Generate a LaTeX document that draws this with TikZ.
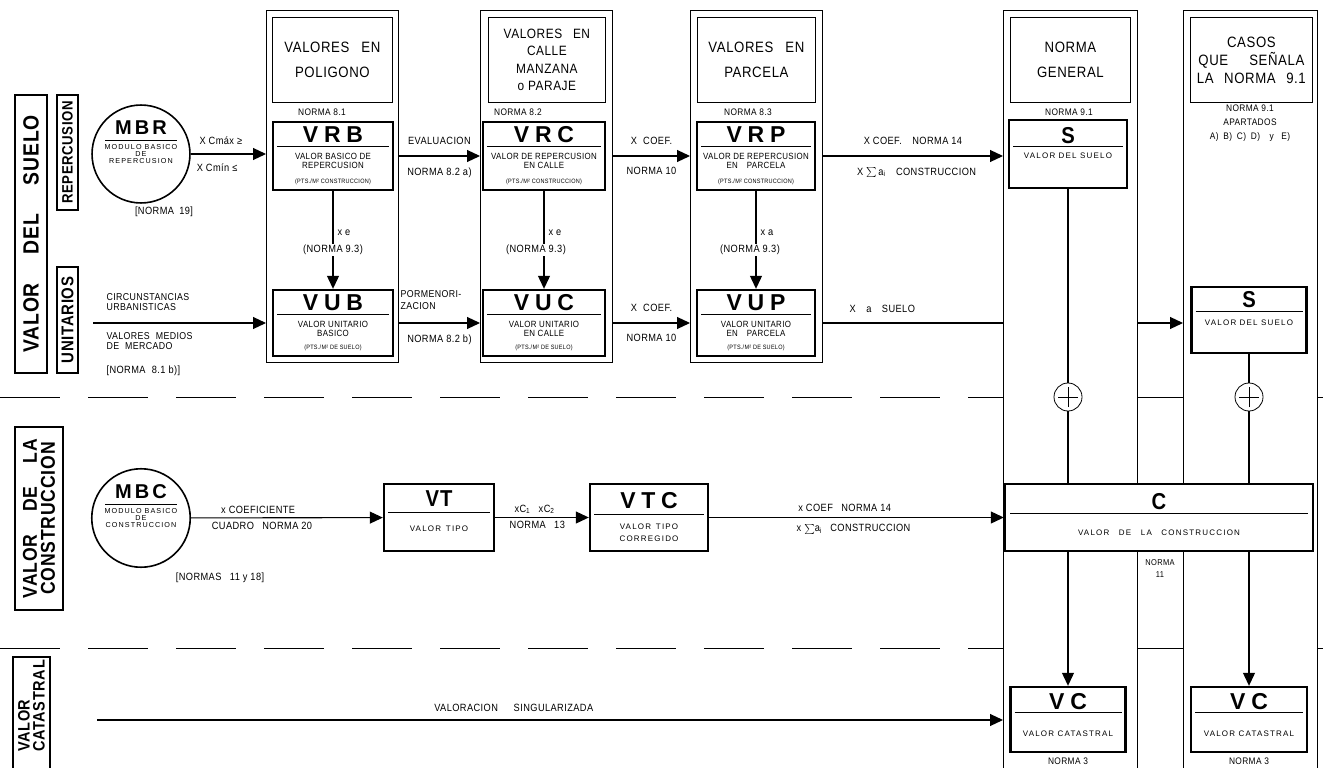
\documentclass[tikz,border=0pt]{standalone}
\usepackage{fontspec}
\setmainfont{Liberation Sans}[FakeStretch=0.88,LetterSpace=4]
\newfontfamily\ttlfont{Liberation Sans}[LetterSpace=25]
\newfontfamily\widefont{Liberation Sans}[LetterSpace=15]
\usetikzlibrary{arrows.meta, positioning}
\newcommand{\boxttl}{\ttlfont\bfseries\fontsize{23}{23}\selectfont}
\newcommand{\plainttl}{\bfseries\fontsize{23}{23}\selectfont}
\newcommand{\tinytxt}{\fontsize{6.3}{6.3}\selectfont}
\newcommand{\widetxt}{\widefont\fontsize{8}{9}\selectfont}

\begin{document}
\begin{tikzpicture}[x=1pt, y=-1pt, >={Triangle[length=13pt,width=12pt]}, line width=1.1pt,
    colbox/.style={draw, line width=0.9pt, inner sep=0pt, anchor=north west, minimum width=132},
    hdbox/.style={draw, line width=0.8pt, inner sep=0pt, anchor=north west, minimum height=85, align=center, font=\fontsize{15}{25}\selectfont},
    valbox/.style={draw, fill=white, line width=2.4pt, inner sep=0pt, align=center, font=\fontsize{9}{9}\selectfont},
    modbox/.style={circle, draw, line width=1.6pt, minimum size=88, inner sep=0pt, align=center, font=\widefont\fontsize{7.2}{7}\selectfont},
    sidebox/.style={draw, line width=1.4pt, rotate=90, inner sep=0pt, align=center},
    lbl/.style={font=\fontsize{10.5}{12}\selectfont, inner sep=1pt},
    nrm/.style={font=\fontsize{9.5}{14}\selectfont, inner sep=1pt, align=center},
    plus/.style={circle, draw, line width=0.8pt, minimum size=28, inner sep=0pt, fill=white,
        path picture={\draw ([xshift=-10pt]path picture bounding box.center) -- ([xshift=10pt]path picture bounding box.center)
            ([yshift=-10pt]path picture bounding box.center) -- ([yshift=10pt]path picture bounding box.center);}},
    sep/.style={line width=1pt, dash pattern=on 60pt off 28pt}]
\useasboundingbox (0,0) rectangle (1323,768);

% side titles
\node[sidebox, minimum width=278, minimum height=32, font=\bfseries\fontsize{22}{22}\selectfont] (lsuelo) at (31,234) {VALOR\hspace{1.3em}DEL\hspace{1.3em}SUELO};
\node[sidebox, minimum width=115, minimum height=21, font=\bfseries\fontsize{15}{15}\selectfont] (lrep) at (67.5,152.5) {REPERCUSION};
\node[sidebox, minimum width=106, minimum height=21, font=\bfseries\fontsize{17}{17}\selectfont] (luni) at (67.5,320) {UNITARIOS};
\node[sidebox, minimum width=183, minimum height=48, font=\bfseries\fontsize{20}{18}\selectfont] (lcons) at (39,518.5) {VALOR\hspace{1.15em}DE\hspace{1.15em}LA\\CONSTRUCCION};
\node[sidebox, minimum width=130, minimum height=37] (lcat) at (31.5,722) {};
\node[rotate=90, inner sep=0pt, align=left, font=\bfseries\fontsize{16.5}{15}\selectfont] (tcat) at (31.5,706) {VALOR\\CATASTRAL};

% columns
\node[colbox, minimum height=352] (col1) at (266,10) {};
\node[colbox, minimum height=352] (col2) at (480,10) {};
\node[colbox, minimum height=352] (col3) at (690,10) {};
\node[colbox, minimum width=134, minimum height=800] (col4) at (1003,10) {};
\node[colbox, minimum width=134, minimum height=800] (col5) at (1183,10) {};

\node[hdbox, minimum width=120] (hd1) at (272,17) {VALORES\hspace{0.8em}EN\\POLIGONO};
\node[hdbox, minimum width=117, font=\fontsize{13.5}{17.5}\selectfont] (hd2) at (488,17) {VALORES\hspace{0.8em}EN\\CALLE\\MANZANA\\o PARAJE};
\node[hdbox, minimum width=118] (hd3) at (697,17) {VALORES\hspace{0.8em}EN\\PARCELA};
\node[hdbox, minimum width=120] (hd4) at (1010,17) {NORMA\\GENERAL};
\node[hdbox, minimum width=122, font=\fontsize{15}{18}\selectfont] (hd5) at (1190,17) {CASOS\\QUE\hspace{1.4em}SEÑALA\\LA\hspace{0.7em}NORMA\hspace{0.7em}9.1};

\node[nrm] (n81) at (322,112) {NORMA 8.1};
\node[nrm] (n82) at (518,112) {NORMA 8.2};
\node[nrm] (n83) at (748,112) {NORMA 8.3};
\node[nrm] (n91) at (1069,112) {NORMA 9.1};
\node[nrm] (n91b) at (1250,123) {NORMA 9.1\\APARTADOS\\A)\hspace{.5em}B)\hspace{.5em}C)\hspace{.5em}D)\hspace{1em}y\hspace{.8em}E)};

% valores del suelo
\node[modbox] (mbr) at (141,154) {{\bfseries\fontsize{20}{20}\selectfont MBR}\\[-1pt]\rule{72pt}{0.6pt}\\[2pt]MODULO BASICO\\DE\\REPERCUSION\\[16.3pt]\mbox{}};
\node[lbl] (n19) at (164,212) {[NORMA\hspace{.5em}19]};

\node[valbox, minimum width=120, minimum height=68] (vrb) at (333,156) {{\boxttl VRB}\\[-5pt]\rule{112pt}{0.6pt}\\[4pt]VALOR BASICO DE\\REPERCUSION\\[6pt]{\tinytxt (PTS./M² CONSTRUCCION)}};
\node[valbox, minimum width=120, minimum height=66] (vub) at (333,323) {{\boxttl VUB}\\[-5pt]\rule{112pt}{0.6pt}\\[4pt]VALOR UNITARIO\\BASICO\\[4pt]{\tinytxt (PTS./M² DE SUELO)}};
\node[valbox, minimum width=122, minimum height=68] (vrc) at (544,156) {{\boxttl VRC}\\[-5pt]\rule{114pt}{0.6pt}\\[4pt]VALOR DE REPERCUSION\\EN CALLE\\[6pt]{\tinytxt (PTS./M² CONSTRUCCION)}};
\node[valbox, minimum width=122, minimum height=66] (vuc) at (544,323) {{\boxttl VUC}\\[-5pt]\rule{114pt}{0.6pt}\\[4pt]VALOR UNITARIO\\EN CALLE\\[4pt]{\tinytxt (PTS./M² DE SUELO)}};
\node[valbox, minimum width=118, minimum height=68] (vrp) at (756,156) {{\boxttl VRP}\\[-5pt]\rule{110pt}{0.6pt}\\[4pt]VALOR DE REPERCUSION\\EN\hspace{1em}PARCELA\\[6pt]{\tinytxt (PTS./M² CONSTRUCCION)}};
\node[valbox, minimum width=118, minimum height=66] (vup) at (756,323) {{\boxttl VUP}\\[-5pt]\rule{110pt}{0.6pt}\\[4pt]VALOR UNITARIO\\EN\hspace{1em}PARCELA\\[4pt]{\tinytxt (PTS./M² DE SUELO)}};
\node[valbox, minimum width=118, minimum height=68] (s1) at (1068,154) {{\plainttl S}\\[-5pt]\rule{110pt}{0.6pt}\\[2pt]{\widetxt VALOR DEL SUELO}\\[14pt]\mbox{}};
\node[valbox, minimum width=115, minimum height=66] (s2) at (1249,320) {{\plainttl S}\\[-5pt]\rule{107pt}{0.6pt}\\[5pt]{\widetxt VALOR DEL SUELO}\\[13.5pt]\mbox{}};

\draw[->] (mbr) -- (mbr -| col1.west) node[lbl, pos=0.4, above=8pt] {X Cmáx ≥} node[lbl, pos=0.35, below=8pt] {X Cmín ≤};
\draw[->] (vrb -| col1.east) -- (vrb -| col2.west) node[lbl, midway, above=10pt] {EVALUACION} node[lbl, midway, below=10pt] {NORMA 8.2 a)};
\draw[->] (vrc -| col2.east) -- (vrc -| col3.west) node[lbl, midway, above=10pt] {X\hspace{.6em}COEF.} node[lbl, midway, below=10pt] {NORMA 10};
\draw[->] (vrp -| col3.east) -- (vrp -| col4.west) node[lbl, midway, above=10pt] {X COEF.\hspace{1em}NORMA 14} node[lbl, pos=0.52, below=10pt] {X $\sum$\,a\textsubscript{i}\hspace{1em}CONSTRUCCION};

\draw[->] (vrb) -- (vub) node[lbl, pos=0.43, right=3pt] {x e} node[lbl, pos=0.6, fill=white] {(NORMA 9.3)};
\draw[->] (vrc) -- (vuc) node[lbl, pos=0.43, right=3pt] {x e} node[lbl, pos=0.6, fill=white, xshift=-8pt] {(NORMA 9.3)};
\draw[->] (vrp) -- (vup) node[lbl, pos=0.43, right=3pt] {x a} node[lbl, pos=0.6, fill=white, xshift=-6pt] {(NORMA 9.3)};

\coordinate (uin) at (93,323);
\draw[->] (uin) -- (uin -| col1.west);
\node[lbl, align=left, anchor=south west, font=\fontsize{10}{10}\selectfont] (circ) at (105,312) {CIRCUNSTANCIAS\\URBANISTICAS};
\node[lbl, align=left, anchor=north west, font=\fontsize{10}{10}\selectfont] (merc) at (105,331) {VALORES\hspace{.6em}MEDIOS\\DE\hspace{.6em}MERCADO};
\node[lbl, anchor=west] (n81b) at (105,371) {[NORMA\hspace{.6em}8.1 b)]};
\node[lbl, align=left, anchor=south west, font=\fontsize{10}{12}\selectfont] (porm) at (399,311) {PORMENORI-\\ZACION};

\draw[->] (vub -| col1.east) -- (vub -| col2.west) node[lbl, midway, below=10pt] {NORMA 8.2 b)};
\draw[->] (vuc -| col2.east) -- (vuc -| col3.west) node[lbl, midway, above=10pt] {X\hspace{.6em}COEF.} node[lbl, midway, below=10pt] {NORMA 10};
\draw (vup -| col3.east) -- (vup -| col4.west) node[lbl, pos=0.33, above=9pt] {X\hspace{1em}a\hspace{1em}SUELO};
\draw[->] (vup -| col4.east) -- (vup -| col5.west);

% separators
\coordinate (d1) at (0,397);
\coordinate (d2) at (0,648);
\draw[sep] (d1) -- (d1 -| col4.west) (d1 -| col4.east) -- (d1 -| col5.west) (d1 -| col5.east) -- (1323,397);
\draw[sep] (d2) -- (d2 -| col4.west) (d2 -| col4.east) -- (d2 -| col5.west) (d2 -| col5.east) -- (1323,648);

% valor de la construccion
\node[modbox] (mbc) at (141,518) {{\bfseries\fontsize{20}{20}\selectfont MBC}\\[-1pt]\rule{72pt}{0.6pt}\\[2pt]MODULO BASICO\\DE\\CONSTRUCCION\\[16.3pt]\mbox{}};
\node[lbl] (n1118) at (220,578) {[NORMAS\hspace{.8em}11 y 18]};

\node[valbox, minimum width=110, minimum height=67] (vt) at (439,517.5) {{\plainttl VT}\\[-3pt]\rule{102pt}{0.6pt}\\[10pt]{\widetxt VALOR\hspace{.6em}TIPO}\\[3.5pt]\mbox{}};
\node[valbox, minimum width=118, minimum height=67] (vtc) at (649,517.5) {{\ttlfont\bfseries\fontsize{23}{23}\selectfont VTC}\\[-3pt]\rule{110pt}{0.6pt}\\[6pt]{\widetxt VALOR\hspace{.6em}TIPO}\\[3pt]{\widetxt CORREGIDO}};
\node[valbox, minimum width=308, minimum height=67] (cbox) at (1159,517.5) {{\plainttl C}\\[-5pt]\rule{298pt}{0.6pt}\\[13pt]{\widefont\fontsize{8}{9}\selectfont VALOR\hspace{1.2em}DE\hspace{1.2em}LA\hspace{1.2em}CONSTRUCCION}\\[-3.5pt]\mbox{}};
\node[nrm, font=\fontsize{8.5}{12}\selectfont] (n11) at (1160,569) {NORMA\\11};

\draw[->] (mbc) -- (vt) node[lbl, pos=0.35, above=3pt] {x COEFICIENTE} node[lbl, pos=0.37, below=3pt] {CUADRO\hspace{.8em}NORMA 20};
\draw[->] (vt) -- (vtc) node[lbl, pos=0.42, above=2pt] {xC\textsubscript{1}\hspace{.8em}xC\textsubscript{2}} node[lbl, pos=0.45, below=2pt] {NORMA\hspace{.8em}13};
\draw[->] (vtc) -- (cbox) node[lbl, pos=0.46, above=4pt] {x COEF\hspace{.8em}NORMA 14} node[lbl, pos=0.49, below=5pt] {x $\sum$a\textsubscript{i}\hspace{.8em}CONSTRUCCION};

% suma y valor catastral
\node[plus] (p1) at (1068,397) {};
\node[plus] (p2) at (1249,397) {};
\node[valbox, minimum width=115, minimum height=65] (vc1) at (1068,719.5) {{\boxttl VC}\\[-6pt]\rule{107pt}{0.6pt}\\[15pt]{\widetxt VALOR CATASTRAL}\\[-0.5pt]\mbox{}};
\node[valbox, minimum width=116, minimum height=65] (vc2) at (1249,719.5) {{\boxttl VC}\\[-6pt]\rule{108pt}{0.6pt}\\[15pt]{\widetxt VALOR CATASTRAL}\\[-0.5pt]\mbox{}};
\node[nrm, below=3pt of vc1] (n3a) {NORMA 3};
\node[nrm, below=3pt of vc2] (n3b) {NORMA 3};

\draw (s1) -- (p1);
\draw (p1) -- (p1 |- cbox.north);
\draw[->] (p1 |- cbox.south) -- (vc1);
\draw (s2) -- (p2);
\draw (p2) -- (p2 |- cbox.north);
\draw[->] (p2 |- cbox.south) -- (vc2);

\coordinate (cin) at (97,720);
\draw[->] (cin) -- (cin -| col4.west) node[lbl, pos=0.46, above=7pt] {VALORACION\hspace{1.5em}SINGULARIZADA};
\end{tikzpicture}
\end{document}
